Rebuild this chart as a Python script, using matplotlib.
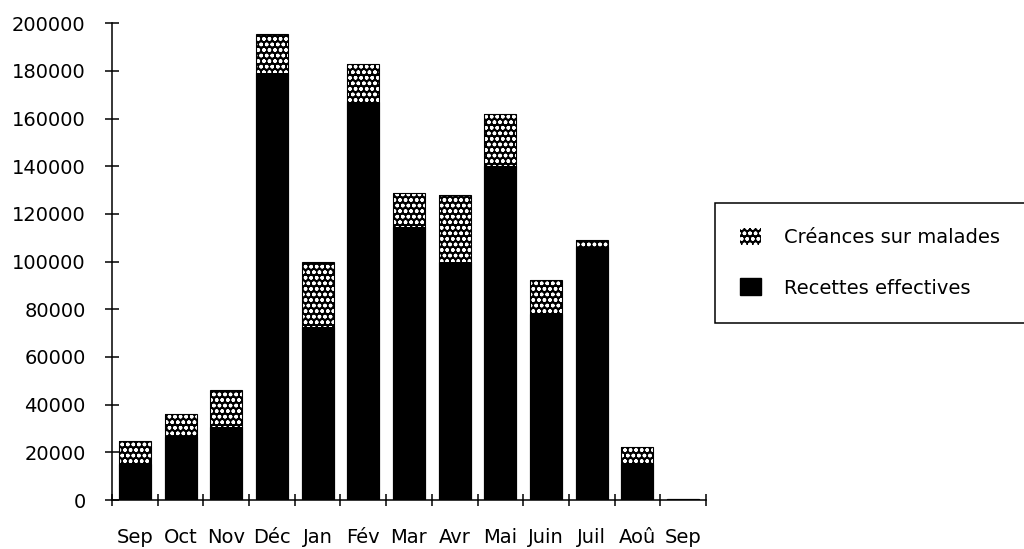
import matplotlib
matplotlib.use("Agg")
import matplotlib.pyplot as plt
from matplotlib.patches import Patch
import numpy as np

plt.rcParams['hatch.linewidth'] = 1.0
plt.rcParams['font.family'] = ['DejaVu Sans']

# Monthly receipts (francs)
months = ["Sep", "Oct", "Nov", "Déc", "Jan", "Fév", "Mar", "Avr",
          "Mai", "Juin", "Juil", "Aoû", "Sep"]
recettes = [15100, 26300, 30500, 179000, 72500, 167000, 114500, 100000,
            140000, 78000, 106000, 15100, 600]
creances = [9500, 9800, 15700, 16700, 27300, 16000, 14400, 28100,
            21800, 14100, 3000, 7000, 0]
yticks = list(range(0, 200001, 20000))

W, H = 1024, 549
fig = plt.figure(figsize=(W / 100, H / 100), dpi=100)
ax = fig.add_axes([112 / W, 1 - 500 / H, (706 - 112) / W, (500 - 23.3) / H])

x = np.arange(len(months)) + 0.5
w = 0.70
totals = np.add(recettes, creances)
dots = 'ooo'

ax.bar(x, recettes, w, facecolor='black', edgecolor='black', linewidth=0.8)
ax.bar(x, creances, w, bottom=recettes, facecolor='black', edgecolor='white',
       hatch=dots, linewidth=0)
ax.bar(x, totals, w, fill=False, edgecolor='black', linewidth=0.8)

ax.set_xlim(0, len(months))
ax.set_ylim(0, 200000)

ax.set_xticks(np.arange(len(months) + 1))
ax.set_xticklabels([])
ax.set_xticks(x, minor=True)
ax.set_xticklabels(months, minor=True, fontsize=14)
ax.tick_params(axis='x', which='minor', length=0, pad=20)
ax.tick_params(axis='x', which='major', direction='inout', length=9, width=1.1)

ax.set_yticks(yticks)
ax.set_yticklabels([str(v) for v in yticks], fontsize=14)
ax.tick_params(axis='y', direction='inout', length=10, width=1.1, pad=14)

for s in ('top', 'right'):
    ax.spines[s].set_visible(False)
for s in ('left', 'bottom'):
    ax.spines[s].set_linewidth(1.1)

handles = [Patch(facecolor='black', edgecolor='white', hatch=dots, linewidth=0),
           Patch(facecolor='black', edgecolor='black')]
labels = ["Créances sur malades", "Recettes effectives"]
leg = fig.legend(handles, labels, loc='upper left',
                 bbox_to_anchor=(715 / W, 1 - 203 / H), borderaxespad=0,
                 frameon=True, fancybox=False, edgecolor='black', framealpha=1,
                 borderpad=1.3, labelspacing=1.6, handlelength=1.05,
                 handleheight=0.95, handletextpad=1.2, fontsize=14)
leg.get_frame().set_linewidth(1.1)

fig.savefig('out.png', dpi=100)
